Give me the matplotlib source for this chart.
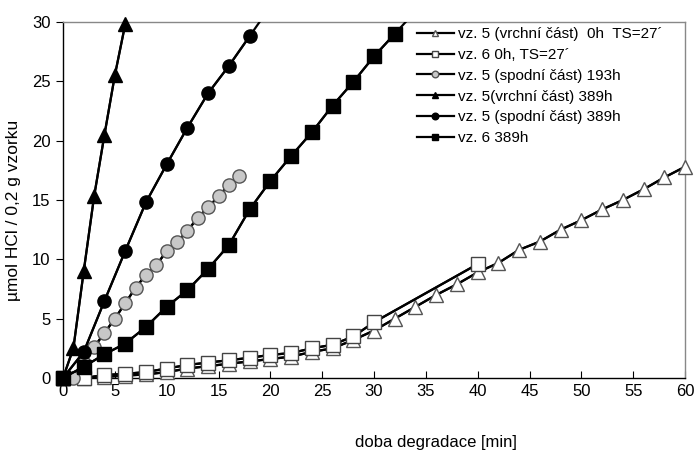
import numpy as np
import matplotlib
matplotlib.use("Agg")
import matplotlib.pyplot as plt

plt.rcParams['font.family'] = ['Liberation Sans', 'DejaVu Sans']

# doba degradace [min] / umol HCl
x_v5_top_0h = np.arange(0, 61, 2)
y_v5_top_0h = [0, 0.0, 0.1, 0.2, 0.3, 0.5, 0.8, 1.0, 1.2, 1.4, 1.6, 1.8, 2.2, 2.5, 3.2,
               4.0, 5.0, 6.0, 7.0, 7.9, 8.9, 9.7, 10.8, 11.5, 12.5, 13.3, 14.2, 15.0,
               15.9, 16.9, 17.8]

x_v6_0h = [0, 2, 4, 6, 8, 10, 12, 14, 16, 18, 20, 22, 24, 26, 28, 30, 40]
y_v6_0h = [0, 0.0, 0.25, 0.35, 0.5, 0.8, 1.1, 1.3, 1.5, 1.7, 1.95, 2.1, 2.5, 2.8, 3.5,
           4.7, 9.6]

x_v5_bot_193h = np.arange(0, 18, 1)
y_v5_bot_193h = [0, 0.0, 1.3, 2.6, 3.8, 5.0, 6.3, 7.6, 8.7, 9.5, 10.7, 11.45, 12.4,
                 13.5, 14.4, 15.3, 16.3, 17.0]

x_v5_top_389h = np.arange(0, 7, 1)
y_v5_top_389h = [0, 2.5, 9.0, 15.3, 20.5, 25.5, 29.8]

x_v5_bot_389h = np.arange(0, 21, 2)
y_v5_bot_389h = [0, 2.2, 6.5, 10.7, 14.8, 18.0, 21.1, 24.0, 26.3, 28.8, 31.3]

x_v6_389h = np.arange(0, 35, 2)
y_v6_389h = [0, 0.95, 2.0, 2.9, 4.3, 6.0, 7.4, 9.2, 11.2, 14.2, 16.6, 18.7, 20.7,
             22.95, 24.95, 27.1, 29.0, 30.9]

labels = ["vz. 5 (vrchní část)  0h  TS=27´",
          "vz. 6 0h, TS=27´",
          "vz. 5 (spodní část) 193h",
          "vz. 5(vrchní část) 389h",
          "vz. 5 (spodní část) 389h",
          "vz. 6 389h"]

series = [
    (x_v5_top_0h, y_v5_top_0h, dict(marker='^', ms=10, mfc='white', mec='#555555', mew=1)),
    (x_v6_0h, y_v6_0h, dict(marker='s', ms=10, mfc='white', mec='#444444', mew=1)),
    (x_v5_bot_193h, y_v5_bot_193h, dict(marker='o', ms=9.5, mfc='#c8c8c8', mec='#555555', mew=1)),
    (x_v5_top_389h, y_v5_top_389h, dict(marker='^', ms=10, mfc='black', mec='black')),
    (x_v5_bot_389h, y_v5_bot_389h, dict(marker='o', ms=9.5, mfc='black', mec='black')),
    (x_v6_389h, y_v6_389h, dict(marker='s', ms=9.5, mfc='black', mec='black')),
]

fig = plt.figure(figsize=(6.95, 4.5), dpi=100)
ax = fig.add_axes([63 / 695, 1 - 378 / 450, 622 / 695, 356 / 450])

handles = []
for i, (xs, ys, st) in enumerate(series):
    xs = np.asarray(xs)
    ys = np.asarray(ys)
    ax.plot(xs, ys, '-', color='black', lw=1.6, zorder=2 + 2 * i)
    vis = ys <= 30
    h, = ax.plot(xs[vis], ys[vis], '-', color='black', lw=1.6, clip_on=False,
                 zorder=3 + 2 * i, label=labels[i], **st)
    handles.append(h)

ax.set_xlim(0, 60)
ax.set_ylim(0, 30)
ax.set_xticks(np.arange(0, 61, 5))
ax.set_yticks(np.arange(0, 31, 5))
ax.tick_params(axis='x', direction='in', length=5, labelsize=12, pad=4)
ax.tick_params(axis='y', direction='out', length=5, labelsize=12, pad=4)

for s in ['top', 'right']:
    ax.spines[s].set_color('#888888')
    ax.spines[s].set_linewidth(1)
for s in ['left', 'bottom']:
    ax.spines[s].set_color('black')
    ax.spines[s].set_linewidth(1)

ax.set_xlabel("doba degradace [min]", fontsize=12)
ax.xaxis.set_label_coords(0.6, -0.16)
ax.set_ylabel("µmol HCl / 0,2 g vzorku", fontsize=12.5)
ax.yaxis.set_label_coords(-0.068, 0.47)

ax.legend(handles=handles, loc='upper left', bbox_to_anchor=(417 / 695, 1 - 27 / 450),
          bbox_transform=fig.transFigure, frameon=False, fontsize=11,
          markerscale=0.5, handlelength=2.4, handletextpad=0.3, labelspacing=0.45,
          borderpad=0, borderaxespad=0)

fig.savefig("out.png", dpi=100)
